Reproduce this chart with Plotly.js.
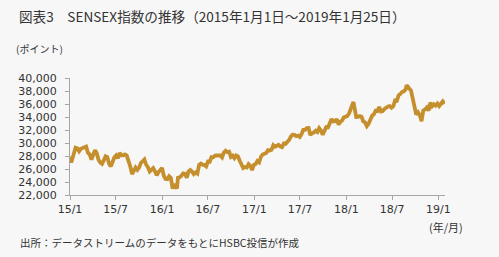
<!DOCTYPE html>
<html><head><meta charset="utf-8">
<script src="https://cdn.plot.ly/plotly-3.0.1.min.js"></script>
<style>html,body{margin:0;padding:0;background:#f7f7f7;}#chart{width:499px;height:257px;}</style>
</head><body><div id="chart"></div>
<script>
// Weekly SENSEX closes (approx.)
const dates2015 = ["2015-01-01","2015-01-02","2015-01-06","2015-01-09","2015-01-16","2015-01-23","2015-01-30","2015-02-06","2015-02-13","2015-02-20","2015-02-27","2015-03-06","2015-03-13","2015-03-20","2015-03-27","2015-04-03","2015-04-10","2015-04-17","2015-04-24","2015-05-01","2015-05-08","2015-05-15","2015-05-22","2015-05-29","2015-06-05","2015-06-12","2015-06-19","2015-06-26","2015-07-03","2015-07-10","2015-07-17","2015-07-24","2015-07-31","2015-08-07","2015-08-14","2015-08-21","2015-08-28","2015-09-04","2015-09-11","2015-09-18","2015-09-25","2015-10-02","2015-10-09","2015-10-16","2015-10-23","2015-10-30","2015-11-06","2015-11-13","2015-11-20","2015-11-27","2015-12-04","2015-12-11","2015-12-18","2015-12-25"];
const values2015 = [27507,27888,26987,27458,28122,29279,29183,28718,29095,29231,29362,29448,28503,28262,27458,28260,28879,28442,27437,27011,26787,27324,27957,27828,26768,26425,27316,27812,28092,27661,28463,28112,28115,28236,28067,27366,26392,25202,25610,26219,25863,26221,26932,27214,27471,26657,26265,25610,25868,26128,25638,25044,25519,25839];

const dates2016 = ["2016-01-01","2016-01-08","2016-01-15","2016-01-22","2016-01-29","2016-02-05","2016-02-12","2016-02-19","2016-02-26","2016-02-29","2016-03-04","2016-03-11","2016-03-18","2016-03-25","2016-04-01","2016-04-08","2016-04-15","2016-04-22","2016-04-29","2016-05-06","2016-05-13","2016-05-20","2016-05-27","2016-06-03","2016-06-10","2016-06-17","2016-06-24","2016-07-01","2016-07-08","2016-07-15","2016-07-22","2016-07-29","2016-08-05","2016-08-12","2016-08-19","2016-08-26","2016-09-02","2016-09-09","2016-09-16","2016-09-23","2016-09-30","2016-10-07","2016-10-14","2016-10-21","2016-10-28","2016-11-04","2016-11-11","2016-11-18","2016-11-25","2016-12-02","2016-12-09","2016-12-16","2016-12-23","2016-12-30"];
const values2016 = [26161,24935,24455,24436,24871,24617,22986,23709,23154,23002,24646,24717,24952,25338,25270,24673,25627,25838,25607,25229,25489,25302,26653,26843,26636,26626,26398,27145,27127,27837,27803,28052,28078,28152,28077,27782,28532,28797,28599,28668,27866,28061,27674,28077,27941,27274,26819,26150,26316,26230,26747,26489,25841,26626];

const dates2017 = ["2017-01-06","2017-01-13","2017-01-20","2017-01-27","2017-02-03","2017-02-10","2017-02-17","2017-02-24","2017-03-03","2017-03-10","2017-03-17","2017-03-24","2017-03-31","2017-04-07","2017-04-14","2017-04-21","2017-04-28","2017-05-05","2017-05-12","2017-05-19","2017-05-26","2017-06-02","2017-06-09","2017-06-16","2017-06-23","2017-06-30","2017-07-07","2017-07-14","2017-07-21","2017-07-28","2017-08-04","2017-08-11","2017-08-18","2017-08-25","2017-09-01","2017-09-08","2017-09-15","2017-09-22","2017-09-29","2017-10-06","2017-10-13","2017-10-20","2017-10-27","2017-11-03","2017-11-10","2017-11-17","2017-11-24","2017-12-01","2017-12-08","2017-12-15","2017-12-22","2017-12-29"];
const values2017 = [26759,27238,27035,27882,28240,28334,28468,28893,28833,28946,29649,29421,29621,29707,29461,29365,29918,29859,30188,30465,31028,31273,31262,31056,31138,30922,31360,32021,32029,32309,32325,31214,31525,31596,31892,31687,32272,31922,31283,31815,32433,32390,33157,33686,33315,33343,33679,32833,33251,33463,33940,34057];

const dates2018 = ["2018-01-05","2018-01-12","2018-01-19","2018-01-26","2018-01-29","2018-02-02","2018-02-09","2018-02-16","2018-02-23","2018-03-02","2018-03-09","2018-03-16","2018-03-23","2018-03-30","2018-04-06","2018-04-13","2018-04-20","2018-04-27","2018-05-04","2018-05-11","2018-05-18","2018-05-25","2018-06-01","2018-06-08","2018-06-15","2018-06-22","2018-06-29","2018-07-06","2018-07-13","2018-07-20","2018-07-27","2018-08-03","2018-08-10","2018-08-17","2018-08-24","2018-08-28","2018-08-31","2018-09-07","2018-09-14","2018-09-21","2018-09-28","2018-10-05","2018-10-12","2018-10-19","2018-10-26","2018-11-02","2018-11-09","2018-11-16","2018-11-23","2018-11-30","2018-12-07","2018-12-14","2018-12-21","2018-12-28"];
const values2018 = [34153,34592,35511,36050,36283,35067,34005,34010,34142,34046,33307,33176,32596,32969,33627,34193,34415,34970,34915,35536,34849,34925,35227,35444,35622,35690,35423,35658,36541,36496,37337,37557,37869,37948,38252,38896,38645,38390,38091,36842,36227,34377,34734,34316,33349,35011,35158,35457,34982,36194,35673,35963,35742,36076];

const dates2019 = ["2019-01-04","2019-01-11","2019-01-18","2019-01-25"];
const values2019 = [35695,36010,36387,36025];

const tickDates = ["2015-01-01","2015-07-01","2016-01-01","2016-07-01","2017-01-01","2017-07-01","2018-01-01","2018-07-01","2019-01-01"];
const tickLabels = ["15/1","15/7","16/1","16/7","17/1","17/7","18/1","18/7","19/1"];
const yTicks = [22000,24000,26000,28000,30000,32000,34000,36000,38000,40000];

const x = [].concat(dates2015, dates2016, dates2017, dates2018, dates2019);
const y = [].concat(values2015, values2016, values2017, values2018, values2019);

const txt = '#333333';
const jp = '"Noto Sans CJK JP", sans-serif';
const num = '"DejaVu Sans", sans-serif';

const trace = {x: x, y: y, type: 'scatter', mode: 'lines',
  line: {color: '#c48f2c', width: 3.8}, hoverinfo: 'skip'};

const layout = {
  width: 499, height: 257,
  margin: {l: 70, r: 54, t: 77.5, b: 61.5, pad: 0},
  paper_bgcolor: '#f7f7f7', plot_bgcolor: '#f7f7f7',
  showlegend: false,
  xaxis: {type: 'date', range: ['2015-01-01', '2019-01-27'],
    tickvals: tickDates, ticktext: tickLabels,
    showgrid: false, zeroline: false, showline: true, linecolor: '#a6a6a6', linewidth: 1,
    ticks: 'outside', ticklen: 4, tickcolor: '#a6a6a6', tickwidth: 1,
    tickfont: {family: num, size: 11, color: txt}, fixedrange: true},
  yaxis: {range: [22000, 40000], tickvals: yTicks, tickformat: ',d',
    showgrid: false, zeroline: false, showline: true, linecolor: '#a6a6a6', linewidth: 1,
    ticks: 'outside', ticklen: 4, tickcolor: '#a6a6a6', tickwidth: 1,
    ticklabelstandoff: 6,
    tickfont: {family: num, size: 11, color: txt}, fixedrange: true},
  annotations: [
    {text: '図表3　SENSEX指数の推移（2015年1月1日～2019年1月25日）', xref: 'paper', yref: 'paper',
     x: -0.1413, y: 1.5297, xanchor: 'left', yanchor: 'middle', showarrow: false,
     font: {family: jp, size: 13.6, color: txt}},
    {text: '(ポイント)', xref: 'paper', yref: 'paper', x: -0.149, y: 1.25,
     xanchor: 'left', yanchor: 'middle', showarrow: false, font: {family: jp, size: 10, color: txt}},
    {text: '(年/月)', xref: 'paper', yref: 'paper', x: 0.952, y: -0.275,
     xanchor: 'left', yanchor: 'middle', showarrow: false, font: {family: jp, size: 11, color: txt}},
    {text: '出所：データストリームのデータをもとにHSBC投信が作成', xref: 'paper', yref: 'paper', x: -0.1387, y: -0.4025,
     xanchor: 'left', yanchor: 'middle', showarrow: false, font: {family: jp, size: 10.5, color: txt}}
  ]
};
Plotly.newPlot('chart', [trace], layout, {displayModeBar: false, staticPlot: true});
</script></body></html>
